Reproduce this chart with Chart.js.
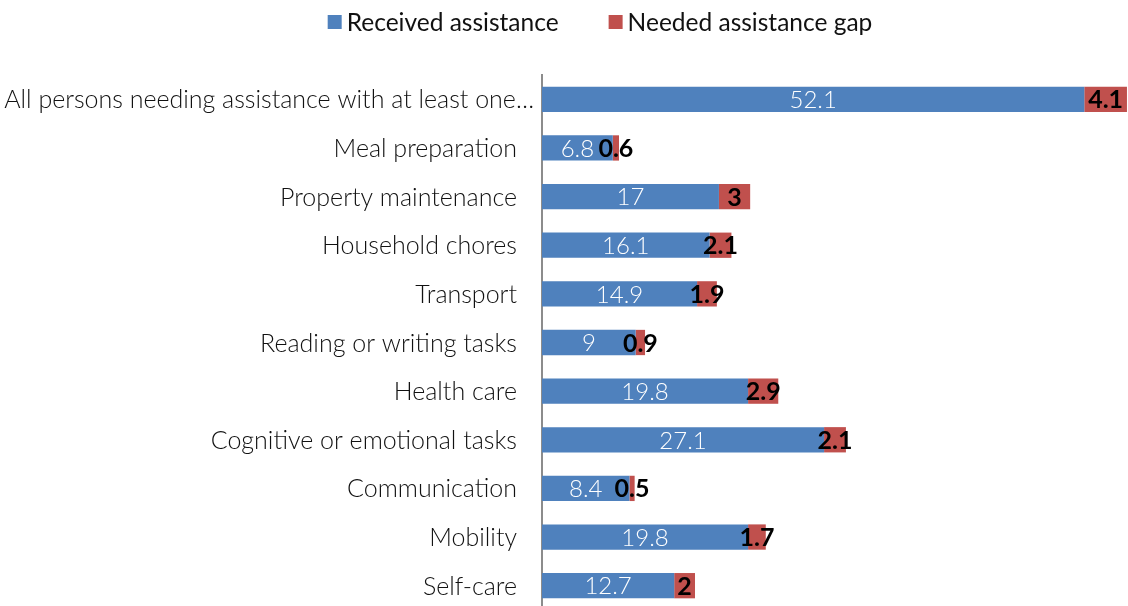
<!DOCTYPE html>
<html>
<head>
<meta charset="utf-8">
<title>Assistance received and needed</title>
<script src="https://cdn.jsdelivr.net/npm/chart.js@4.4.1/dist/chart.umd.min.js"></script>
<style>
  html, body { margin: 0; padding: 0; background: #fff; overflow: hidden; }
  #wrap { width: 1128px; height: 610px; }
</style>
</head>
<body>
<div id="wrap"><canvas id="chart" width="1128" height="610"></canvas></div>
<script>
// Activity categories, top to bottom
const categories = [
  'All persons needing assistance with at least one…',
  'Meal preparation',
  'Property maintenance',
  'Household chores',
  'Transport',
  'Reading or writing tasks',
  'Health care',
  'Cognitive or emotional tasks',
  'Communication',
  'Mobility',
  'Self-care'
];

// Share receiving assistance, and the remaining unmet need
const received = [52.1, 6.8, 17, 16.1, 14.9, 9, 19.8, 27.1, 8.4, 19.8, 12.7];
const neededGap = [4.1, 0.6, 3, 2.1, 1.9, 0.9, 2.9, 2.1, 0.5, 1.7, 2];

const seriesNames = ['Received assistance', 'Needed assistance gap'];

const BLUE = '#4F81BD';
const RED = '#C0504D';
const FONT = 'Lato, "Open Sans", sans-serif';

// Writes each segment's value in the middle of its bar
const valueLabels = {
  id: 'valueLabels',
  afterDatasetsDraw(chart) {
    const ctx = chart.ctx;
    chart.data.datasets.forEach((ds, i) => {
      const meta = chart.getDatasetMeta(i);
      if (meta.hidden) return;
      ctx.save();
      ctx.font = ds.valueFont;
      ctx.fillStyle = ds.valueColor;
      ctx.textAlign = 'center';
      ctx.textBaseline = 'middle';
      meta.data.forEach((bar, j) => {
        const p = bar.getProps(['x', 'y', 'base'], true);
        ctx.fillText(String(ds.data[j]), (p.x + p.base) / 2, p.y + 1);
      });
      ctx.restore();
    });
  }
};

// Category names left of the axis, placed on the y scale's tick positions.
// The truncated first name is allowed to run a little closer to the axis.
const categoryLabels = {
  id: 'categoryLabels',
  afterDraw(chart) {
    const ctx = chart.ctx;
    const scale = chart.scales.y;
    ctx.save();
    ctx.font = '300 25px ' + FONT;
    ctx.fillStyle = '#111';
    ctx.textAlign = 'right';
    ctx.textBaseline = 'middle';
    chart.data.labels.forEach((label, i) => {
      const inset = label.endsWith('…') ? 8 : 25;
      ctx.fillText(label, scale.right - inset, scale.getPixelForTick(i) + 1);
    });
    ctx.restore();
  }
};

// Legend row above the plot: square swatch followed by the series name
const topLegend = {
  id: 'topLegend',
  afterDraw(chart) {
    const ctx = chart.ctx;
    const box = 14, textGap = 5, itemGap = 50, centerX = 600, y = 22;
    ctx.save();
    ctx.font = '24.5px ' + FONT;
    ctx.textBaseline = 'middle';
    ctx.textAlign = 'left';
    const items = chart.data.datasets.map(d => ({
      text: d.label, color: d.backgroundColor, w: ctx.measureText(d.label).width
    }));
    const total = items.reduce((s, it) => s + box + textGap + it.w, 0) + itemGap * (items.length - 1);
    let x = centerX - total / 2;
    items.forEach(it => {
      ctx.fillStyle = it.color;
      ctx.fillRect(x, y - box / 2, box, box);
      x += box + textGap;
      ctx.fillStyle = '#111';
      ctx.fillText(it.text, x, y + 1);
      x += it.w + itemGap;
    });
    ctx.restore();
  }
};

new Chart(document.getElementById('chart'), {
  type: 'bar',
  data: {
    labels: categories,
    datasets: [
      {
        label: seriesNames[0],
        data: received,
        backgroundColor: BLUE,
        valueFont: '300 24px ' + FONT,
        valueColor: '#ffffff'
      },
      {
        label: seriesNames[1],
        data: neededGap,
        backgroundColor: RED,
        valueFont: 'bold 25px ' + FONT,
        valueColor: '#000000'
      }
    ]
  },
  options: {
    indexAxis: 'y',
    responsive: false,
    animation: false,
    devicePixelRatio: 1,
    layout: { padding: { top: 75, right: 0, bottom: 0, left: 0 } },
    datasets: {
      bar: { categoryPercentage: 1, barPercentage: 0.52, borderWidth: 0 }
    },
    plugins: {
      legend: { display: false },
      tooltip: { enabled: false }
    },
    scales: {
      x: {
        stacked: true,
        display: false,
        min: 0,
        max: 56.3
      },
      y: {
        stacked: true,
        grid: { display: false, drawTicks: false },
        border: { display: true, color: '#8c8c8c', width: 2 },
        ticks: { display: false },
        afterFit(scale) {
          scale.width = 542;
          scale.paddingTop = 0;
          scale.paddingBottom = 0;
        }
      }
    }
  },
  plugins: [valueLabels, categoryLabels, topLegend]
});
</script>
</body>
</html>
